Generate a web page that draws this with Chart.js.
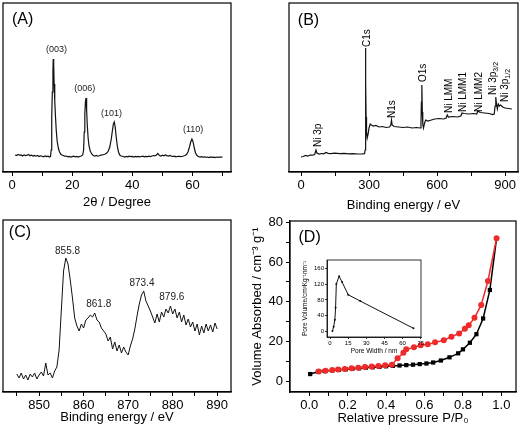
<!DOCTYPE html>
<html>
<head>
<meta charset="utf-8">
<script src="https://cdn.jsdelivr.net/npm/chart.js@4.4.1/dist/chart.umd.min.js"></script>
<style>
  body { margin: 0; background: #fff; }
  #fig { position: relative; width: 520px; height: 428px; overflow: hidden; }
  #fig canvas { position: absolute; }
</style>
</head>
<body>
<div id="fig">
  <canvas id="xrdCanvas" width="260" height="210" style="left:0;top:0;width:260px;height:210px"></canvas>
  <canvas id="surveyCanvas" width="260" height="215" style="left:260px;top:0;width:260px;height:215px"></canvas>
  <canvas id="ni2pCanvas" width="260" height="218" style="left:0;top:210px;width:260px;height:218px"></canvas>
  <canvas id="betCanvas" width="275" height="228" style="left:245px;top:200px;width:275px;height:228px"></canvas>
  <canvas id="poreCanvas" width="130" height="108" style="left:300px;top:250px;width:130px;height:108px"></canvas>
</div>
<script>
// (A) XRD pattern
const xrdAngle = [1,1.5,2,2.5,3,3.5,4,4.5,5,5.5,6,6.5,7,7.5,8,8.5,9,9.5,10,10.5,11,11.5,12,12.5,12.8,13.0,13.2,13.4,13.6,13.7,13.8,13.9,14.0,14.2,14.4,14.7,15.0,15.4,15.8,16.3,17,17.5,18,18.5,19,19.5,20,20.5,21,21.5,22,22.5,23,23.5,23.8,24.0,24.2,24.4,24.6,24.8,25.0,25.3,25.6,26.0,26.5,27,27.5,28,28.5,29,29.5,30,30.5,31,31.5,32,32.5,33.0,33.4,33.7,34.0,34.3,34.6,35.0,35.4,35.8,36.3,37,37.5,38,38.5,39,39.5,40,40.5,41,41.5,42,42.5,43,43.5,44,44.5,45,45.5,46,46.5,47,47.5,48,48.5,49,49.5,50,50.5,51,51.5,52,52.5,53,53.5,54,54.5,55,55.5,56,56.5,57,57.5,58,58.5,59.0,59.4,59.8,60.2,60.6,61.0,61.5,62,62.5,63,63.5,64,64.5,65,65.5,66,66.5,67,67.5,68,68.5,69,69.5,70];
const xrdCounts = [17,16.5,17.5,16.8,17.2,16,17,16.4,16.8,17.5,16.2,16.8,16,16.6,15.8,16.5,15.5,16.2,15.8,15.2,16,15.4,15.8,15,15.5,22,55,80,100,113,97,108,88,72,58,42,31,24,20,17.5,16.5,15.8,16,15.2,15.6,15,15.4,15.8,15.2,15.6,15,15.5,16,17,22,40,58,70,74,62,48,34,26,21,18,16.5,16,16.5,15.8,16.2,16.8,17,17.5,18,19,21,25,33,42,48,50,45,36,26,20,17,16,15.5,15,15.6,15.2,15.8,15.3,15.6,15,15.5,15.1,15.6,15.2,15.5,15.8,15.2,15.6,15.3,15.8,15.4,16,16.5,16.2,17,18.5,16.5,16,16.8,16.2,17,16.4,16,16.5,15.8,15.5,15.8,15.2,15.5,15.8,15.3,15.6,16,16.5,17.5,20,25,30,33,30,24,19,16.5,15.5,15,15.4,14.8,15.2,14.7,15,14.5,15,14.6,14.9,14.5,15,14.7,15,14.8,15];
const xrdTicks = [0,10,20,30,40,50,60,70];
const xrdTickLabels = ['0','','20','','40','','60',''];
const xrdPeakNames = ['(003)','(006)','(101)','(110)'];
const xrdPeakAngle = [14.8,24.2,33.1,60.2];
const xrdPeakLevel = [122,83,58,42];

// (B) XPS survey
const surveyBE = [0,10,20,30,40,50,60,66,70,80,90,100,110,120,130,150,170,190,210,230,250,270,280,283,284,285,286,287,289,292,296,300,305,310,320,330,345,360,375,390,396,399,402,410,430,450,470,490,510,525,529,531,533,535,537,540,545,550,560,575,590,610,630,640,645,650,670,690,705,710,720,740,760,775,780,790,810,830,845,852,856,859,862,866,870,875,880,890,900,915,930];
const surveyCounts = [15,15.5,16.5,16,17,16.8,17.5,22,19,18,18.5,18.2,19.5,18.6,18.4,18.8,18.4,18.6,18.2,18.4,18,18.2,18.4,22,80,124,90,55,40,34,38,44,48,47,46,46.5,45,45.5,44.5,45,47,52,47,45.5,45,44.5,45,44,44.5,44,48,70,87,60,48,44,49,52,51,52,53,53.5,53,54,57,55,55.5,55,56,59,58.5,58,58.5,58,61,59.5,59,58.5,57.5,58,66,75,68,63,68,66,67,65,64,63.5,63];
const surveyTicks = [0,150,300,450,600,750,900];
const surveyTickLabels = ['0','','300','','600','','900'];
const surveyNames = ['Ni 3p','C1s','N1s','O1s','Ni LMM','Ni LMM1','Ni LMM2','Ni 3p','Ni 3p'];
const surveySubs = ['','','','','','','','3/2','1/2'];
const surveyNameBE = [75,291,401,538,653,715,785,847,900];
const surveyNameLevel = [25,125,54,90,59,60,60,77,70];

// (C) Ni 2p region
const ni2pBE = [845,845.5,846,846.5,847,847.5,848,848.5,849,849.5,850,850.5,851,851.5,852,852.5,853,853.5,854,854.5,855,855.5,856,856.5,857,857.5,858,858.5,859,859.5,860,860.5,861,861.5,862,862.5,863,863.5,864,864.5,865,865.5,866,866.5,867,867.5,868,868.5,869,869.5,870,870.5,871,871.5,872,872.5,873,873.5,874,874.5,875,875.5,876,876.5,877,877.5,878,878.5,879,879.5,880,880.5,881,881.5,882,882.5,883,883.5,884,884.5,885,885.5,886,886.5,887,887.5,888,888.5,889,889.5,890];
const ni2pCounts = [18,14,19,13,17,12,18,15,19,13,17,20,16,29,17,19,14,21,25,42,82,121,134,128,112,94,74,66,61,68,64,72,74,77,75,79,72,70,64,61,58,51,55,43,50,41,47,39,45,40,37,46,53,63,76,88,97,101,91,86,81,75,69,78,70,80,75,83,79,86,78,83,74,80,70,77,67,73,65,70,61,68,57,66,59,68,61,67,60,69,63];
const ni2pTicks = [845,850,855,860,865,870,875,880,885,890];
const ni2pTickLabels = ['','850','','860','','870','','880','','890'];
const ni2pPeakNames = ['855.8','861.8','873.4','879.6'];
const ni2pPeakBE = [856.4,863.4,873.1,879.8];
const ni2pPeakLevel = [141,88,109,95];

// (D) N2 isotherm
const adsPressure = [0.005,0.045,0.08,0.12,0.155,0.19,0.225,0.26,0.295,0.33,0.365,0.40,0.435,0.47,0.505,0.54,0.575,0.61,0.645,0.685,0.73,0.775,0.80,0.836,0.87,0.905,0.94,0.975];
const adsVolume = [3.8,5.0,5.3,5.6,5.9,6.2,6.5,6.7,7.0,7.2,7.4,7.7,7.9,8.1,8.3,8.5,8.8,9.1,9.6,10.6,12.2,14.2,16.2,19.5,23.8,31.7,46,72];
const desPressure = [0.975,0.93,0.895,0.86,0.83,0.81,0.78,0.74,0.70,0.655,0.617,0.58,0.545,0.505,0.49,0.46,0.43,0.395,0.36,0.325,0.29,0.255,0.22,0.185,0.15,0.12,0.085,0.05];
const desVolume = [72,50.5,38.5,32,28.3,26.5,24.2,22.5,20.8,19.7,18.7,18.3,17.2,16.2,14.5,11.7,8.5,8.2,7.9,7.6,7.3,7.0,6.7,6.4,6.1,5.8,5.5,5.1];
const betXTicks = [0,0.1,0.2,0.3,0.4,0.5,0.6,0.7,0.8,0.9,1.0];
const betXTickLabels = ['0.0','','0.2','','0.4','','0.6','','0.8','','1.0'];
const betYTicks = [0,10,20,30,40,50,60,70,80];
const betYTickLabels = ['0','','20','','40','','60','','80'];

// (D) inset, pore size distribution
const poreWidth = [2,3,4,4.6,5.2,7.5,10,15,25,69];
const poreVolume = [1,12,30,60,120,140,125,93,77,8];
const poreXTicks = [0,15,30,45,60,75];
const poreYTicks = [0,40,80,120,160];

Chart.defaults.font.family = '"Liberation Sans", Arial, sans-serif';
Chart.defaults.color = '#000';
Chart.defaults.animation = false;
Chart.defaults.responsive = false;
Chart.defaults.plugins.legend.display = false;
Chart.defaults.plugins.tooltip.enabled = false;

const FONT = '"Liberation Sans", Arial, sans-serif';

function pairs(xs, ys) {
    return xs.map((v, i) => ({ x: v, y: ys[i] }));
}

// linear axis with fixed ticks, outward tick marks
function axis(min, max, ticks, labels, size, more) {
    return Object.assign({
        type: 'linear',
        min: min,
        max: max,
        afterBuildTicks: s => { s.ticks = ticks.map(v => ({ value: v })); },
        ticks: { callback: (v, i) => labels[i], autoSkip: false, maxRotation: 0, padding: 2, font: { size: size } },
        grid: { drawOnChartArea: false, color: '#000', tickLength: 4, lineWidth: 1 },
        border: { color: '#000', width: 1.2 }
    }, more);
}

const frame = {
    id: 'frame',
    afterDraw(chart, args, opts) {
        const { ctx, chartArea: a } = chart;
        ctx.save();
        ctx.strokeStyle = '#000';
        ctx.lineWidth = opts.width || 1.2;
        ctx.strokeRect(a.left, a.top, a.right - a.left, a.bottom - a.top);
        ctx.restore();
    }
};

// text placed at data coordinates
const notes = {
    id: 'notes',
    afterDatasetsDraw(chart, args, opts) {
        const { ctx, scales: { x, y } } = chart;
        (opts.items || []).forEach(n => {
            ctx.save();
            ctx.translate(x.getPixelForValue(n.x), y.getPixelForValue(n.y));
            if (n.rotate) ctx.rotate(-Math.PI / 2);
            ctx.font = n.size + 'px ' + FONT;
            ctx.fillStyle = n.color || '#000';
            ctx.textBaseline = 'middle';
            ctx.textAlign = n.rotate ? 'left' : 'center';
            ctx.fillText(n.text, 0, 0);
            if (n.sub) {
                const w = ctx.measureText(n.text).width;
                ctx.font = (n.size * 0.7) + 'px ' + FONT;
                ctx.textAlign = 'left';
                ctx.fillText(n.sub, w, n.size * 0.3);
            }
            ctx.restore();
        });
    }
};

const lineStyle = { borderColor: '#111', borderWidth: 1.2, pointRadius: 0, tension: 0, fill: false };

// (A)
new Chart(document.getElementById('xrdCanvas'), {
    type: 'line',
    data: { datasets: [Object.assign({ data: pairs(xrdAngle, xrdCounts) }, lineStyle)] },
    options: {
        layout: { padding: { left: 3, top: 3, right: 29, bottom: 0 } },
        scales: {
            x: axis(-3, 72.8, xrdTicks, xrdTickLabels, 13, {
                afterFit: s => { s.height = 38; },
                title: { display: true, text: '2θ / Degree', font: { size: 13 }, padding: 0 }
            }),
            y: { display: false, min: 0, max: 169 }
        },
        plugins: {
            notes: {
                items: xrdPeakNames.map((t, i) => ({ text: t, x: xrdPeakAngle[i], y: xrdPeakLevel[i], size: 9, color: '#222' }))
                    .concat([{ text: '(A)', x: 3.5, y: 152, size: 16 }])
            }
        }
    },
    plugins: [frame, notes]
});

// (B)
new Chart(document.getElementById('surveyCanvas'), {
    type: 'line',
    data: { datasets: [Object.assign({ data: pairs(surveyBE, surveyCounts) }, lineStyle)] },
    options: {
        layout: { padding: { left: 29, top: 3, right: 2, bottom: 2.2 } },
        scales: {
            x: axis(-53, 957, surveyTicks, surveyTickLabels, 13, {
                afterFit: s => { s.height = 40.8; },
                title: { display: true, text: 'Binding energy / eV', font: { size: 13 }, padding: 0 }
            }),
            y: { display: false, min: 0, max: 169 }
        },
        plugins: {
            notes: {
                items: surveyNames.map((t, i) => ({ text: t, sub: surveySubs[i], x: surveyNameBE[i], y: surveyNameLevel[i], size: 10, rotate: true }))
                    .concat([{ text: '(B)', x: 33, y: 151, size: 16 }])
            }
        }
    },
    plugins: [frame, notes]
});

// (C)
new Chart(document.getElementById('ni2pCanvas'), {
    type: 'line',
    data: { datasets: [Object.assign({ data: pairs(ni2pBE, ni2pCounts) }, lineStyle, { borderWidth: 1 })] },
    options: {
        layout: { padding: { left: 3, top: 10, right: 29, bottom: 3.2 } },
        scales: {
            x: axis(841.9, 893.1, ni2pTicks, ni2pTickLabels, 13, {
                afterFit: s => { s.height = 32.8; },
                title: { display: true, text: 'Binding energy / eV', font: { size: 13 }, padding: 0 }
            }),
            y: { display: false, min: 0, max: 172 }
        },
        plugins: {
            notes: {
                items: ni2pPeakNames.map((t, i) => ({ text: t, x: ni2pPeakBE[i], y: ni2pPeakLevel[i], size: 10, color: '#222' }))
                    .concat([{ text: '(C)', x: 845.7, y: 159.5, size: 16 }])
            }
        }
    },
    plugins: [frame, notes]
});

// (D)
new Chart(document.getElementById('betCanvas'), {
    type: 'line',
    data: {
        datasets: [
            {
                data: pairs(desPressure, desVolume),
                borderColor: '#ee2a2a', backgroundColor: '#ee2a2a', borderWidth: 1.5,
                pointStyle: 'circle', pointRadius: 3, pointBorderWidth: 0, tension: 0, order: 0
            },
            {
                data: pairs(adsPressure, adsVolume),
                borderColor: '#000', backgroundColor: '#000', borderWidth: 1.5,
                pointStyle: 'rect', pointRadius: 3, pointBorderWidth: 0, tension: 0, order: 1
            }
        ]
    },
    options: {
        layout: { padding: { left: 5, top: 21, right: 3, bottom: 2.2 } },
        scales: {
            x: axis(-0.1, 1.076, betXTicks, betXTickLabels, 13, {
                afterFit: s => { s.height = 33.8; },
                title: { display: true, text: 'Relative pressure P/P₀', font: { size: 13 }, padding: 0 }
            }),
            y: axis(-5.2, 80.6, betYTicks, betYTickLabels, 13, {
                afterFit: s => { s.width = 40; },
                ticks: { callback: (v, i) => betYTickLabels[i], autoSkip: false, padding: 3, font: { size: 13 } },
                title: { display: true, text: 'Volume Absorbed / cm⁻³ g⁻¹', font: { size: 13 }, padding: 0 }
            })
        },
        plugins: {
            notes: { items: [{ text: '(D)', x: 0.002, y: 72.5, size: 16 }] }
        }
    },
    plugins: [frame, notes]
});

// (D) inset
new Chart(document.getElementById('poreCanvas'), {
    type: 'line',
    data: {
        datasets: [{
            data: pairs(poreWidth, poreVolume),
            borderColor: '#111', backgroundColor: '#111', borderWidth: 1,
            pointRadius: 1, pointBorderWidth: 0, tension: 0
        }]
    },
    options: {
        layout: { padding: { left: 1, top: 10, right: 9, bottom: 3 } },
        scales: {
            x: axis(-2.5, 75.2, poreXTicks, poreXTicks.map(String), 6, {
                afterFit: s => { s.height = 18; },
                grid: { drawOnChartArea: false, color: '#000', tickLength: 2, lineWidth: 0.8 },
                border: { color: '#000', width: 0.8 },
                ticks: { callback: (v, i) => String(poreXTicks[i]), autoSkip: false, maxRotation: 0, padding: 1, font: { size: 6 } },
                title: { display: true, text: 'Pore Width / nm', font: { size: 6.5 }, padding: 0 }
            }),
            y: axis(-14, 181, poreYTicks, poreYTicks.map(String), 6, {
                afterFit: s => { s.width = 26; },
                grid: { drawOnChartArea: false, color: '#000', tickLength: 2, lineWidth: 0.8 },
                border: { color: '#000', width: 0.8 },
                ticks: { callback: (v, i) => String(poreYTicks[i]), autoSkip: false, padding: 1, font: { size: 6 } },
                title: { display: true, text: 'Pore Volume/cm³Kg⁻¹nm⁻¹', font: { size: 6.5 }, padding: 0 }
            })
        },
        plugins: { frame: { width: 0.8 } }
    },
    plugins: [frame]
});
</script>
</body>
</html>
